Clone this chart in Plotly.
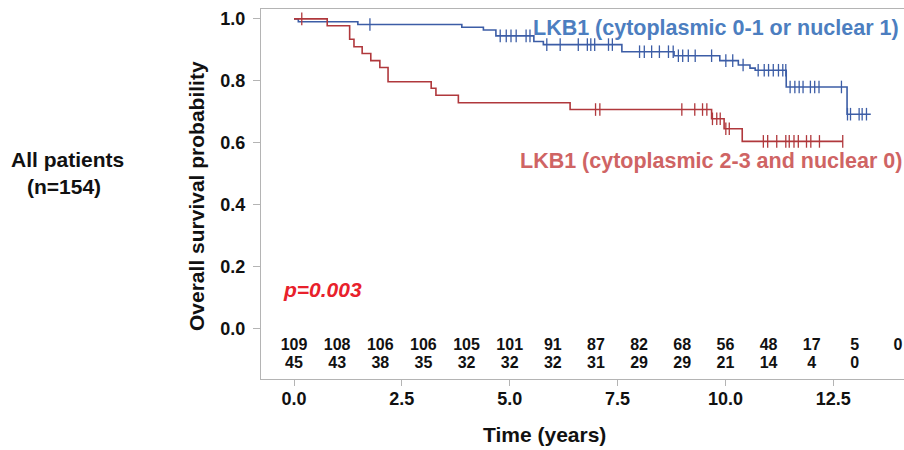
import numpy as np
import plotly.graph_objects as go

# Kaplan-Meier step points (time in years, survival probability)
blue_times = [0.10, 1.48, 3.89, 4.39, 4.68, 5.56, 5.78, 7.60, 8.81, 9.87, 10.30, 10.57, 10.69, 11.41, 12.82]
blue_surv = [0.991, 0.982, 0.973, 0.964, 0.945, 0.927, 0.917, 0.894, 0.881, 0.865, 0.851, 0.841, 0.834, 0.780, 0.692]
blue_end = 13.37
blue_censor = [1.76, 4.78, 4.92, 5.03, 5.15, 5.38, 5.47, 5.86, 6.17, 6.59, 6.80, 6.88, 6.97,
               7.29, 7.38, 8.01, 8.12, 8.29, 8.47, 8.68, 8.79, 8.91, 9.01, 9.14, 9.30, 9.68,
               10.01, 10.17, 10.41, 10.76, 10.90, 11.00, 11.11, 11.23, 11.33, 11.40,
               11.50, 11.61, 11.71, 11.80, 11.97, 12.07, 12.17, 12.69,
               12.83, 12.90, 13.10, 13.17, 13.27]

red_times = [0.77, 1.29, 1.39, 1.58, 1.78, 1.99, 2.18, 3.18, 3.29, 3.81, 6.40, 9.68, 9.97, 10.39]
red_surv = [0.978, 0.934, 0.910, 0.888, 0.865, 0.843, 0.797, 0.776, 0.753, 0.729, 0.707, 0.677, 0.645, 0.604]
red_end = 12.72
red_censor = [0.18, 6.99, 7.09, 8.99, 9.29, 9.47, 9.57, 9.70, 9.80, 9.88, 10.01, 10.09,
              10.88, 10.98, 11.19, 11.40, 11.48, 11.59, 11.69, 11.88, 11.98, 12.18, 12.72]

# Numbers at risk
risk_times_1 = [0, 1, 2, 3, 4, 5, 6, 7, 8, 9, 10, 11, 12, 13, 14]
risk_group_1 = [109, 108, 106, 106, 105, 101, 91, 87, 82, 68, 56, 48, 17, 5, 0]
risk_times_2 = [0, 1, 2, 3, 4, 5, 6, 7, 8, 9, 10, 11, 12, 13]
risk_group_2 = [45, 43, 38, 35, 32, 32, 32, 31, 29, 29, 21, 14, 4, 0]

x_ticks = [0.0, 2.5, 5.0, 7.5, 10.0, 12.5]
y_ticks = [0.0, 0.2, 0.4, 0.6, 0.8, 1.0]

BLUE_LINE = "#3c5da6"
RED_LINE = "#b0383c"
BLUE_TEXT = "#4c7ec0"
RED_TEXT = "#cf6464"
P_TEXT = "#e8212b"
FONT = "Arial, Liberation Sans, sans-serif"


def step_curve(times, surv, end):
    xs = [0.0] + list(times) + [end]
    ys = [1.0] + list(surv) + [surv[-1]]
    return xs, ys


def surv_at(times, surv, t):
    idx = np.searchsorted(np.asarray(times), t, side="right")
    return 1.0 if idx == 0 else surv[idx - 1]


fig = go.Figure()

for times, surv, end, censor, color in [
    (blue_times, blue_surv, blue_end, blue_censor, BLUE_LINE),
    (red_times, red_surv, red_end, red_censor, RED_LINE),
]:
    xs, ys = step_curve(times, surv, end)
    fig.add_trace(go.Scatter(x=xs, y=ys, mode="lines", line=dict(color=color, width=1.6, shape="hv"),
                             hoverinfo="skip"))
    fig.add_trace(go.Scatter(x=censor, y=[surv_at(times, surv, t) for t in censor], mode="markers",
                             marker=dict(symbol="line-ns", size=9, line=dict(color=color, width=1.3)),
                             hoverinfo="skip"))

# Risk table rows
ROW1_Y, ROW2_Y = -0.056, -0.117
fig.add_trace(go.Scatter(x=risk_times_1, y=[ROW1_Y] * len(risk_times_1), mode="text",
                         text=[str(v) for v in risk_group_1], cliponaxis=False,
                         textfont=dict(family=FONT, size=16, color="#111111", weight="bold")))
fig.add_trace(go.Scatter(x=risk_times_2, y=[ROW2_Y] * len(risk_times_2), mode="text",
                         text=[str(v) for v in risk_group_2], cliponaxis=False,
                         textfont=dict(family=FONT, size=16, color="#111111", weight="bold")))

bold = dict(family=FONT, color="#111111", weight="bold")
L, R, T, B, W, H = 261, 0, 9, 71, 904, 450
pw, ph = W - L - R, H - T - B


def px_to_paper(xp, yp):
    """Pixel position (from top-left of the figure) to paper coordinates."""
    return (xp - L) / pw, (H - B - yp) / ph


def paper_note(xp, yp, text, **kw):
    x, y = px_to_paper(xp, yp)
    return dict(x=x, y=y, xref="paper", yref="paper", text=text, showarrow=False,
                xanchor="center", yanchor="middle", font=dict(size=21, **bold), **kw)


annotations = [
    dict(x=-0.97, y=ROW1_Y, xref="x", yref="y", text="1", showarrow=False, xanchor="center",
         yanchor="middle", font=dict(size=16, **bold)),
    dict(x=-0.97, y=ROW2_Y, xref="x", yref="y", text="2", showarrow=False, xanchor="center",
         yanchor="middle", font=dict(size=16, **bold)),
    dict(x=14.06, y=0.97, xref="x", yref="y", text="LKB1 (cytoplasmic 0-1 or nuclear 1)", xanchor="right",
         yanchor="middle", showarrow=False,
         font=dict(family=FONT, size=21.5, color=BLUE_TEXT, weight="bold")),
    dict(x=14.13, y=0.54, xref="x", yref="y", text="LKB1 (cytoplasmic 2-3 and nuclear 0)", xanchor="right",
         yanchor="middle", showarrow=False,
         font=dict(family=FONT, size=21.5, color=RED_TEXT, weight="bold")),
    dict(x=0.67, y=0.125, xref="x", yref="y", text="<i>p=0.003</i>", showarrow=False, xanchor="center",
         yanchor="middle", font=dict(family=FONT, size=21, color=P_TEXT, weight="bold")),
    paper_note(544, 434, "Time (years)"),
    paper_note(197, 196, "Overall survival probability", textangle=-90),
    paper_note(67, 159, "All patients"),
    paper_note(64, 186, "(n=154)"),
]

fig.update_layout(
    width=W, height=H,
    margin=dict(l=L, r=R, t=T, b=B, pad=0),
    paper_bgcolor="white", plot_bgcolor="white",
    showlegend=False,
    annotations=annotations,
    xaxis=dict(range=[-0.765, 14.14], tickvals=x_ticks, ticktext=[f"{v:.1f}" for v in x_ticks],
               showgrid=False, zeroline=False, showline=True, linecolor="#b4b4b4", linewidth=1.2,
               mirror=True, ticks="outside", ticklen=6, tickcolor="#b4b4b4",
               ticklabelstandoff=-3, tickfont=dict(size=18, **bold)),
    yaxis=dict(range=[-0.164, 1.032], tickvals=y_ticks, ticktext=[f"{v:.1f}" for v in y_ticks],
               showgrid=False, zeroline=False, showline=True, linecolor="#b4b4b4", linewidth=1.2,
               ticks="outside", ticklen=7, tickcolor="#b4b4b4",
               ticklabelstandoff=4, tickfont=dict(size=18, **bold)),
)

fig.write_html("out.html")
